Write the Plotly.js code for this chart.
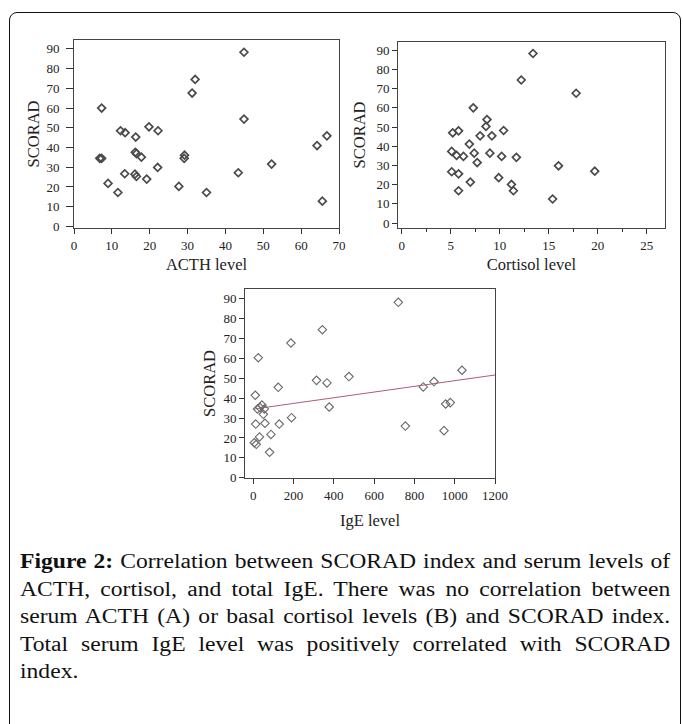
<!DOCTYPE html>
<html>
<head>
<meta charset="utf-8">
<script src="https://cdn.plot.ly/plotly-3.0.1.min.js"></script>
<style>
  html, body { margin: 0; padding: 0; background: #fff; overflow: hidden; }
  #wrap { position: relative; width: 683px; height: 724px; overflow: hidden; }
  #chart { position: absolute; left: 0; top: 0; width: 683px; height: 724px; }
  #frame { position: absolute; left: 9px; top: 12px; width: 672px; height: 800px;
           border: 1.5px solid #111; border-radius: 8px; pointer-events: none; box-sizing: border-box; }
  #caption { position: absolute; left: 20px; top: 548px; width: 551px;
             transform: scaleX(1.18); transform-origin: 0 0;
             font-family: "Liberation Serif", "Times New Roman", serif; font-size: 20px; color: #111; }
  #caption .ln { height: 27.5px; line-height: 27.5px; white-space: nowrap; text-align: justify; text-align-last: justify; }
  #caption .ln.last { text-align: left; text-align-last: left; }
  #caption b { font-weight: bold; }
</style>
</head>
<body>
<div id="wrap">
  <div id="chart"></div>
  <div id="frame"></div>
  <div id="caption">
    <div class="ln"><b>Figure 2:</b> Correlation between SCORAD index and serum levels of</div>
    <div class="ln">ACTH, cortisol, and total IgE. There was no correlation between</div>
    <div class="ln">serum ACTH (A) or basal cortisol levels (B) and SCORAD index.</div>
    <div class="ln">Total serum IgE level was positively correlated with SCORAD</div>
    <div class="ln last">index.</div>
  </div>
</div>
<script>
// Panel A: ACTH level vs SCORAD
const acthLevel = [7.3, 6.8, 7.3, 9.0, 11.6, 12.3, 13.5, 13.4, 16.3, 16.2, 16.5, 17.8, 16.1, 16.5, 19.2, 19.8, 22.2, 22.1, 27.7, 29.2, 29.1, 31.2, 32.0, 35.0, 43.4, 44.9, 44.9, 52.2, 64.2, 66.8, 65.6];
const acthScorad = [60.0, 34.5, 34.5, 21.8, 17.2, 48.5, 47.5, 26.7, 45.3, 37.6, 36.9, 35.1, 26.5, 25.3, 24.0, 50.5, 48.5, 29.9, 20.3, 36.1, 34.5, 67.6, 74.5, 17.2, 27.2, 88.3, 54.4, 31.6, 41.0, 45.9, 12.8];

// Panel B: Cortisol level vs SCORAD
const cortisolLevel = [13.4, 12.2, 17.8, 7.3, 8.7, 8.6, 5.2, 5.8, 10.4, 8.0, 9.2, 6.9, 5.1, 5.6, 6.3, 7.4, 9.0, 10.2, 11.7, 7.7, 5.1, 5.8, 7.0, 9.9, 11.2, 11.4, 5.8, 16.0, 19.7, 15.4];
const cortisolScorad = [88.3, 74.5, 67.6, 60.0, 53.9, 50.3, 47.0, 48.0, 48.2, 45.4, 45.4, 41.1, 37.3, 35.2, 34.7, 36.4, 36.4, 34.7, 34.2, 31.5, 26.7, 25.6, 21.3, 23.6, 20.1, 16.8, 16.8, 29.8, 27.0, 12.5];

// Panel C: IgE level vs SCORAD
const igeLevel = [720, 343, 187, 25, 1036, 475, 314, 366, 897, 844, 124, 10, 377, 955, 978, 21, 43, 55, 33, 50, 190, 12, 58, 129, 755, 947, 31, 88, 5, 15, 81];
const igeScorad = [88.3, 74.5, 67.8, 60.4, 54.1, 50.9, 49.0, 47.7, 48.4, 45.7, 45.5, 41.5, 35.6, 37.1, 37.8, 34.6, 36.6, 34.6, 35.3, 31.9, 30.2, 27.0, 27.4, 27.0, 26.0, 23.7, 20.5, 21.8, 17.6, 16.8, 12.8];

// Fitted regression line (panel C)
const fitIge = [0, 1200];
const fitScorad = [34.5, 51.7];

const W = 683, H = 724;
const dx = (a, b) => [a / W, b / W];
const dy = (top, bottom) => [1 - bottom / H, 1 - top / H];

function marker(col, lw, size) {
  return { symbol: 'diamond-open', size: size, color: col, line: { color: col, width: lw } };
}

const traces = [
  { x: acthLevel, y: acthScorad, type: 'scatter', mode: 'markers', xaxis: 'x', yaxis: 'y',
    marker: marker('#4a4a4a', 1.7, 6) },
  { x: cortisolLevel, y: cortisolScorad, type: 'scatter', mode: 'markers', xaxis: 'x2', yaxis: 'y2',
    marker: marker('#4a4a4a', 1.7, 6) },
  { x: fitIge, y: fitScorad, type: 'scatter', mode: 'lines', xaxis: 'x3', yaxis: 'y3',
    line: { color: '#b25b70', width: 1.1 } },
  { x: igeLevel, y: igeScorad, type: 'scatter', mode: 'markers', xaxis: 'x3', yaxis: 'y3',
    marker: marker('#6a6a6a', 1.1, 6.5) }
];

const tickFont = { family: 'Liberation Serif, serif', size: 13, color: '#222' };
const titleFont = { family: 'Liberation Serif, serif', size: 16.5, color: '#222' };

function xax(domain, range, dtick, title, anchor, standoff, extra) {
  return Object.assign({
    domain: domain, range: range, dtick: dtick, tick0: 0, anchor: anchor,
    ticks: 'outside', ticklen: 5, tickwidth: 1, tickcolor: '#333',
    showline: true, linecolor: '#444', linewidth: 1, mirror: true,
    showgrid: false, zeroline: false, tickfont: tickFont,
    title: { text: title, font: titleFont, standoff: standoff }
  }, extra || {});
}
function yax(domain, range, title, anchor, standoff, extra) {
  return Object.assign({
    domain: domain, range: range, dtick: 10, tick0: 0, anchor: anchor,
    ticks: 'outside', ticklen: 5, tickwidth: 1, tickcolor: '#333',
    showline: true, linecolor: '#444', linewidth: 1, mirror: true,
    showgrid: false, zeroline: false, tickfont: tickFont,
    title: { text: title, font: titleFont, standoff: standoff }
  }, extra || {});
}

const layout = {
  width: W, height: H,
  margin: { l: 0, r: 0, t: 0, b: 0 },
  paper_bgcolor: '#fff', plot_bgcolor: '#fff',
  showlegend: false,
  font: { family: 'Liberation Serif, serif', color: '#222' },
  xaxis:  xax(dx(74, 339), [0, 70], 10, 'ACTH level', 'y', 6),
  yaxis:  yax(dy(40, 228), [-0.8, 94.5], 'SCORAD', 'x', 2, { ticklen: 7, ticklabelstandoff: 4 }),
  xaxis2: xax(dx(398, 665), [-0.38, 26.87], 5, 'Cortisol level', 'y2', 6,
              { minor: { dtick: 2.5, tick0: 0, ticks: 'outside', ticklen: 3, tickcolor: '#333' } }),
  yaxis2: yax(dy(42, 228), [-2.6, 94.3], 'SCORAD', 'x2', 6),
  xaxis3: xax(dx(245, 495), [-41, 1200], 200, 'IgE level', 'y3', 12),
  yaxis3: yax(dy(289, 478), [-0.15, 95], 'SCORAD', 'x3', 3)
};

Plotly.newPlot('chart', traces, layout, { staticPlot: true, displayModeBar: false });
</script>
</body>
</html>
